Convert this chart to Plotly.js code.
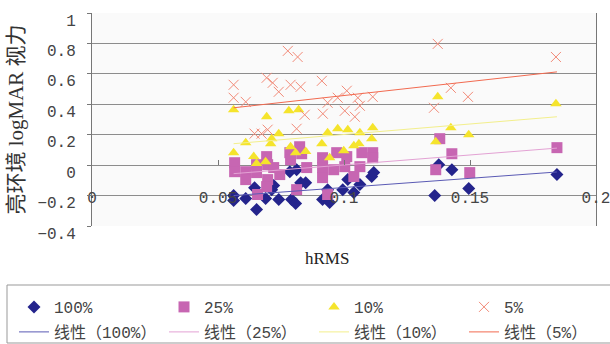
<!DOCTYPE html>
<html><head><meta charset="utf-8">
<script src="https://cdn.plot.ly/plotly-3.0.1.min.js"></script>
<style>html,body{margin:0;padding:0;background:#fff}</style>
</head><body><div id="chart" style="width:610px;height:344px"></div>
<script>
// ---- data ----
const seriesNames = ['100%', '25%', '10%', '5%'];
const trendNames = ['线性（100%）', '线性（25%）', '线性（10%）', '线性（5%）'];

const x100 = [0.0562,0.0562,0.0610,0.0645,0.0653,0.0689,0.0713,0.0721,0.0741,0.0785,0.0812,0.0792,0.0808,0.0828,0.0848,0.0915,0.0935,0.0943,0.0995,0.1015,0.1039,0.1063,0.1110,0.1118,0.1360,0.1376,0.1428,0.1495,0.1845];
const y100 = [-0.200,-0.233,-0.220,-0.148,-0.292,-0.220,-0.161,-0.134,-0.226,-0.043,-0.030,-0.226,-0.252,-0.115,-0.115,-0.226,-0.161,-0.246,-0.161,-0.095,-0.180,-0.128,-0.075,-0.049,-0.200,0.003,-0.030,-0.154,-0.062];

const x25 = [0.0566,0.0566,0.0610,0.0610,0.0653,0.0653,0.0657,0.0693,0.0697,0.0697,0.0693,0.0721,0.0745,0.0785,0.0788,0.0824,0.0832,0.0852,0.0812,0.0915,0.0915,0.0915,0.0935,0.0971,0.0959,0.1011,0.1003,0.1039,0.1063,0.1071,0.1114,0.1114,0.1380,0.1428,0.1364,0.1499,0.1845];
const y25 = [0.016,-0.043,-0.043,-0.095,0.003,-0.049,-0.193,0.056,0.003,-0.095,-0.141,-0.016,-0.062,0.082,0.036,0.121,0.075,-0.016,-0.161,0.049,-0.016,-0.082,-0.193,0.082,-0.030,0.056,-0.010,-0.075,-0.010,0.082,0.082,0.049,0.174,0.075,-0.030,-0.049,0.115];

const x10 = [0.0562,0.0693,0.0781,0.0820,0.0741,0.0610,0.0562,0.0713,0.0709,0.0642,0.0653,0.0689,0.0788,0.0808,0.0848,0.0912,0.0935,0.0975,0.1015,0.1063,0.1114,0.1110,0.0943,0.0999,0.1039,0.1059,0.1372,0.1364,0.1424,0.1495,0.1841];
const y10 = [0.364,0.318,0.357,0.364,0.207,0.148,0.082,0.174,0.141,0.056,0.010,0.023,0.121,0.082,0.089,0.141,0.213,0.239,0.233,0.213,0.246,0.174,0.049,0.095,0.128,0.141,0.449,0.154,0.246,0.200,0.403];

const x5 = [0.0562,0.0562,0.0610,0.0693,0.0717,0.0741,0.0777,0.0816,0.0788,0.0828,0.0844,0.0912,0.0916,0.0935,0.0975,0.1011,0.1003,0.1043,0.1055,0.1063,0.1114,0.0645,0.0673,0.0697,0.0812,0.1357,0.1372,0.1424,0.1492,0.1841];
const y5 = [0.528,0.443,0.416,0.574,0.541,0.482,0.751,0.711,0.528,0.515,0.331,0.554,0.338,0.410,0.443,0.489,0.357,0.318,0.443,0.390,0.449,0.207,0.207,0.233,0.239,0.377,0.797,0.508,0.449,0.711];

// linear trend lines (end points)
const trendX = [0.0562, 0.1845];
const trend100 = [-0.200, -0.045];
const trend25 = [-0.056, 0.112];
const trend10 = [0.141, 0.318];
const trend5 = [0.377, 0.613];

const xTicks = [0, 0.05, 0.1, 0.15, 0.2];
const xTickText = ['0', '0.05', '0.1', '0.15', '0.2'];
const yTicks = [-0.4, -0.2, 0, 0.2, 0.4, 0.6, 0.8, 1];
const yTickText = ['−0.4', '−0.2', '0', '0.2', '0.4', '0.6', '0.8', '1'];

// ---- styles ----
const monoFont = 'Liberation Mono, Noto Sans CJK SC, monospace';
const serifFont = 'Liberation Serif, Noto Sans CJK SC, serif';

const traces = [
  {x: x100, y: y100, name: seriesNames[0], type: 'scatter', mode: 'markers', legend: 'legend',
   marker: {symbol: 'diamond', size: 10, color: '#24248c'}},
  {x: x25, y: y25, name: seriesNames[1], type: 'scatter', mode: 'markers', legend: 'legend',
   marker: {symbol: 'square', size: 11, color: '#c766b2'}},
  {x: x10, y: y10, name: seriesNames[2], type: 'scatter', mode: 'markers', legend: 'legend',
   marker: {symbol: 'triangle-up', size: 10, color: '#f5e42c'}},
  {x: x5, y: y5, name: seriesNames[3], type: 'scatter', mode: 'markers', legend: 'legend',
   marker: {symbol: 'x-thin-open', size: 10, color: '#f28a78', line: {width: 1, color: '#f28a78'}}},
  {x: trendX, y: trend100, name: trendNames[0], type: 'scatter', mode: 'lines', legend: 'legend2',
   line: {color: '#5a5ab4', width: 1}},
  {x: trendX, y: trend25, name: trendNames[1], type: 'scatter', mode: 'lines', legend: 'legend2',
   line: {color: '#e3a2d4', width: 1}},
  {x: trendX, y: trend10, name: trendNames[2], type: 'scatter', mode: 'lines', legend: 'legend2',
   line: {color: '#f3ef8c', width: 1}},
  {x: trendX, y: trend5, name: trendNames[3], type: 'scatter', mode: 'lines', legend: 'legend2',
   line: {color: '#f26a50', width: 1}}
];

// paper-coordinate helpers (plot area: x 92..596 px, y 13..226 px)
const PX = px => (px - 92) / 504;
const PY = py => (226 - py) / 213;

const legendCommon = {
  orientation: 'h', xanchor: 'left', yanchor: 'top',
  entrywidth: 105, entrywidthmode: 'pixels',
  bgcolor: 'rgba(0,0,0,0)', borderwidth: 0,
  font: {family: monoFont, size: 16, color: '#444'},
  traceorder: 'normal'
};

const layout = {
  width: 610, height: 344,
  margin: {l: 92, r: 14, t: 13, b: 118, autoexpand: false},
  paper_bgcolor: '#ffffff',
  plot_bgcolor: '#fafafa',
  showlegend: true,
  xaxis: {
    range: [0, 0.2], tickvals: xTicks, ticktext: xTickText, automargin: false,
    anchor: 'free', position: 0.4 / 1.4,
    showgrid: false, zeroline: false, showline: false,
    ticks: 'inside', ticklen: 5, tickcolor: '#777',
    ticklabelstandoff: 21, ticklabeloverflow: 'allow',
    tickfont: {family: monoFont, size: 16, color: '#444'}
  },
  yaxis: {
    range: [-0.4, 1], tickvals: yTicks, ticktext: yTickText, automargin: false,
    showgrid: true, gridcolor: '#8c8c8c', gridwidth: 1,
    zeroline: false, showline: true, linecolor: '#777', linewidth: 1, mirror: true,
    ticks: 'outside', ticklen: 4, tickcolor: '#777',
    ticklabelshift: 7, ticklabelstandoff: 8,
    tickfont: {family: monoFont, size: 16, color: '#444'},
    title: {text: '亮环境 logMAR 视力', font: {family: serifFont, size: 21, color: '#333'}, standoff: 8}
  },
  legend: Object.assign({}, legendCommon, {x: PX(14), y: PY(290)}),
  legend2: Object.assign({}, legendCommon, {x: PX(14), y: PY(315)}),
  shapes: [{
    type: 'rect', xref: 'paper', yref: 'paper', layer: 'below',
    x0: PX(7), x1: PX(640), y0: PY(343), y1: PY(285),
    line: {color: '#999', width: 1}, fillcolor: '#ffffff'
  }],
  annotations: [{
    text: 'hRMS', xref: 'paper', yref: 'paper',
    x: PX(327), y: PY(258), xanchor: 'center', yanchor: 'middle',
    showarrow: false, font: {family: serifFont, size: 17, color: '#222'}
  }]
};

Plotly.newPlot('chart', traces, layout, {displayModeBar: false, staticPlot: true});
</script></body></html>
